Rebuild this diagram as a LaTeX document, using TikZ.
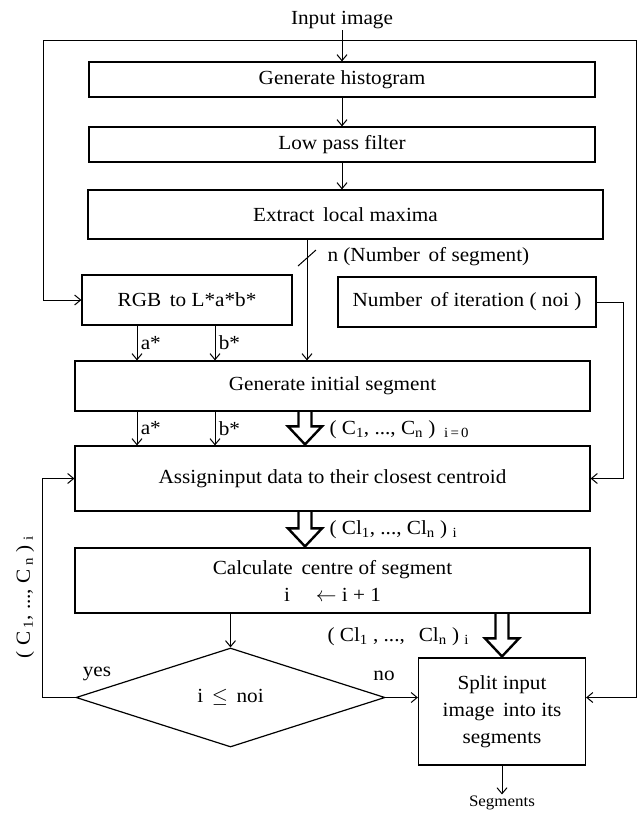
\documentclass[tikz,border=0pt]{standalone}
\usepackage{fontspec}
\setmainfont{Liberation Serif}[FakeStretch=1.06]
\usetikzlibrary{arrows.meta, positioning, shapes.geometric, calc}

\begin{document}
\begin{tikzpicture}[
      x=1pt, y=-1pt,
      >={Straight Barb[length=6pt,width=10pt]},
      font=\fontsize{20}{27}\selectfont,
      line width=1pt,
      procbox/.style={draw, line width=1.2pt, align=center, inner sep=2pt},
      testbox/.style={draw, diamond, line width=1.2pt, inner sep=0pt},
      lbl/.style={inner sep=1pt, align=center},
      hollow/.style={line width=2.4pt, to path={let \p1=(\tikztostart), \p2=(\tikztotarget) in
          (\x1-6.5pt,\y1) |- (\x1-17pt,\y2+19pt) -- (\x1,\y2+1pt) -- (\x1+17pt,\y2+19pt) -| (\x1+6.5pt,\y1)}},
  ]

  \useasboundingbox (0,0) rectangle (644,815);

  % Input and outer frame
  \node[lbl] (input) at (342, 20) {Input image};
  \coordinate (tl) at (43, 40);
  \coordinate (tr) at (636, 40);

  % --- Histogram chain ---
  \node[procbox, minimum width=506pt, minimum height=35pt] (hist) at (342, 79.5) {Generate histogram};
  \node[procbox, minimum width=506pt, minimum height=35pt] (lpf) at (342, 144.5) {Low pass filter};
  \node[procbox, minimum width=515pt, minimum height=49pt] (extract) at (345.5, 214.5) {Extract\, local maxima};

  \draw[->] (input.south) -- (hist.north);
  \draw[->] (hist.south) -- (lpf.north);
  \draw[->] (lpf.south) -- (lpf.south |- extract.north);

  % --- Colour conversion and iterations ---
  \node[procbox, minimum width=210pt, minimum height=50pt] (rgb) at (187, 300) {RGB\, to L*a*b*};
  \node[procbox, minimum width=258pt, minimum height=50pt] (noi) at (467, 302) {Number\, of iteration ( noi )};

  \draw[<-] (rgb.west) -| (tl) -- (tr);

  % --- Segmentation boxes ---
  \node[procbox, minimum width=515pt, minimum height=50pt] (geninit) at (332.5, 386) {Generate initial segment};
  \node[procbox, minimum width=515pt, minimum height=65pt] (assign) at (332.5, 478.5) {Assign\hspace{0.05em}input data to their closest centroid};
  \node[procbox, minimum width=515pt, minimum height=65pt] (calc) at (332.5, 580.5) {Calculate\, centre of segment\\i\hspace{1.3em}$\leftarrow$ i + 1};
  \node[testbox, minimum width=309pt, minimum height=99pt] (dia) at (230.5, 697.5) {i\, $\leq$\, noi};
  \node[procbox, minimum width=167pt, minimum height=107pt] (split) at (502, 711.5) {Split input\\image\, into its\\segments};
  \node[lbl, font=\fontsize{16}{20}\selectfont] (seg) at (502, 803) {Segments};

  % n (number of segments)
  \coordinate (ncol) at ([xshift=-38.5pt]extract.south);
  \node[lbl, anchor=west] (nlab) at (326, 257) {n (Number\, of segment)};
  \draw[->] (ncol) -- (ncol |- geninit.north);
  \draw ($(ncol |- nlab)+(-9,9)$) -- ++(18,-16);

  % a* and b*
  \coordinate (acol) at ([xshift=-50pt]rgb.south);
  \coordinate (bcol) at ([xshift=28pt]rgb.south);
  \draw[->] (acol) -- (acol |- geninit.north) node[midway, right] {a*};
  \draw[->] (bcol) -- (bcol |- geninit.north) node[midway, right] {b*};
  \draw[->] (acol |- geninit.south) -- (acol |- assign.north) node[midway, right] {a*};
  \draw[->] (bcol |- geninit.south) -- (bcol |- assign.north) node[midway, right] {b*};

  % iterations feed
  \draw[->] (noi.east) -- ++(27,0) |- (assign.east);

  % --- Hollow arrows ---
  \coordinate (tcol) at ([xshift=-27.5pt]geninit.south);
  \draw[hollow] (tcol) to (tcol |- assign.north);
  \node[lbl, anchor=west] (c0lab) at (328, 430) {( C\textsubscript{1}, ..., C\textsubscript{n} )\, \textsubscript{i\,=\,0}};
  \draw[hollow] (tcol |- assign.south) to (tcol |- calc.north);
  \node[lbl, anchor=west] (cllab) at (328, 530) {( Cl\textsubscript{1}, ..., Cl\textsubscript{n} ) \textsubscript{i}};
  \draw[hollow] (split.north |- calc.south) to (split.north);
  \node[lbl, anchor=west] (cl2lab) at (326, 637) {( Cl\textsubscript{1} , ..., \, Cl\textsubscript{n} ) \textsubscript{i}};

  % --- Decision ---
  \draw[->] (dia.north |- calc.south) -- (dia.north);
  \draw[->] (dia.east) -- (split.west |- dia.east);
  \node[lbl] (nolab) at (384, 676) {no};
  \node[lbl] (yeslab) at (97, 674) {yes};
  \draw[->] (dia.west) -- ++(-33,0) |- (assign.west);
  \node[lbl, rotate=90] (cilab) at (25, 597) {( C\,\textsubscript{1}, ..., C\,\textsubscript{n} ) \textsubscript{i}};

  % right frame line into split
  \draw[->] (tr) |- (split.east |- dia.east);
  \draw[->] (split.south) -- (seg.north);

\end{tikzpicture}
\end{document}
